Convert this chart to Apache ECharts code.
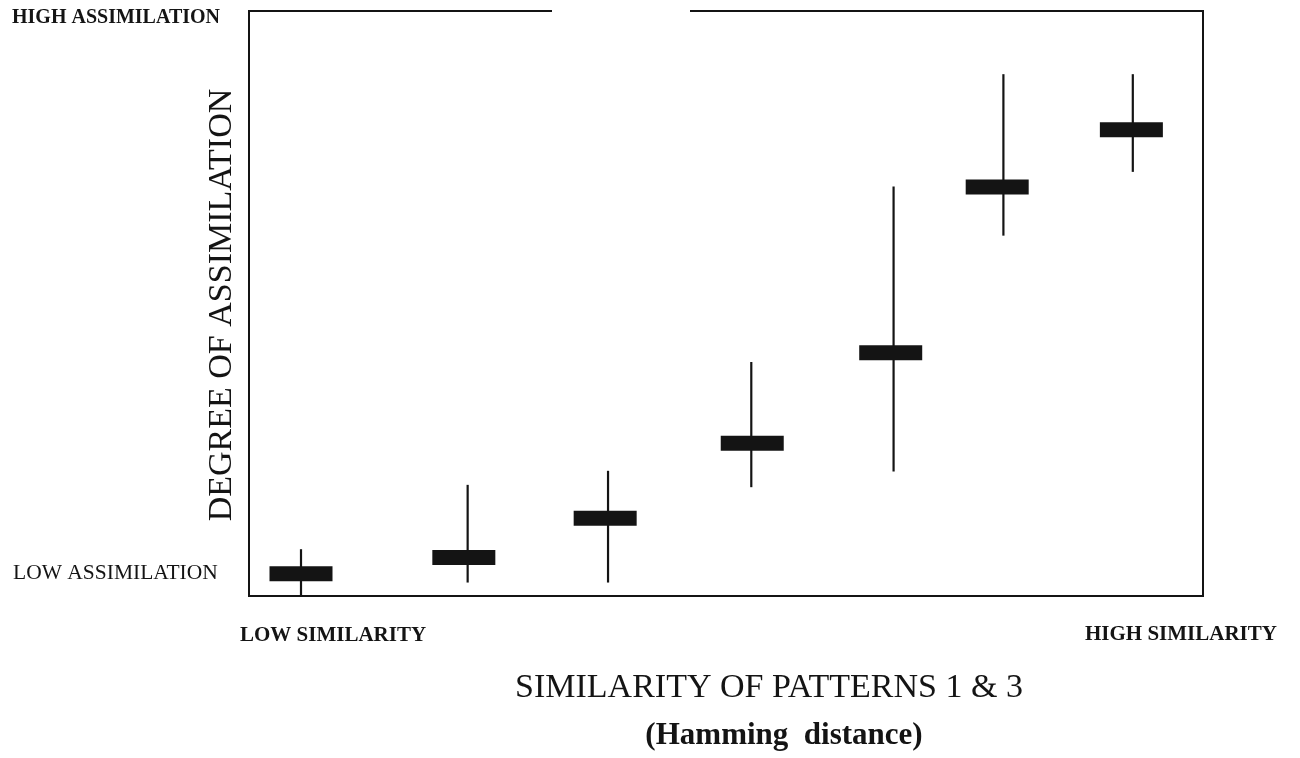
<!DOCTYPE html>
<html>
<head>
<meta charset="utf-8">
<script src="https://cdn.jsdelivr.net/npm/echarts@6/dist/echarts.min.js"></script>
<style>
html,body{margin:0;padding:0;background:#fff;}
#chart{width:1300px;height:758px;}
</style>
</head>
<body>
<div id="chart"></div>
<script>
// Similarity of patterns (0 = low similarity, 100 = high similarity)
var barX     = [5.55, 22.6, 37.4, 52.8, 67.3, 78.45, 92.5];
var whiskerX = [5.55, 23.0, 37.7, 52.7, 67.6, 79.1, 92.65];
// Degree of assimilation (0 = low, 100 = high)
var meanY = [3.8, 6.6, 13.3, 26.1, 41.6, 69.9, 79.7];
var lowY  = [0.0, 2.3, 2.3, 18.6, 21.3, 61.6, 72.5];
var highY = [8.0, 19.0, 21.4, 40.0, 70.0, 89.2, 89.2];

var yTickLabels = ['LOW ASSIMILATION', 'HIGH ASSIMILATION'];
var xTickLabels = ['LOW SIMILARITY', 'HIGH SIMILARITY'];
var xTitle = 'SIMILARITY OF PATTERNS 1 & 3';
var xSubTitle = '(Hamming  distance)';
var yTitle = 'DEGREE OF ASSIMILATION';

var data = barX.map(function (x, i) {
  return [x, whiskerX[i], meanY[i], lowY[i], highY[i]];
});

var chart = echarts.init(document.getElementById('chart'));
var serif = '"Liberation Serif", "DejaVu Serif", serif';
var ink = '#141414';

var option = {
  backgroundColor: '#ffffff',
  animation: false,
  grid: { left: 248, right: 97, top: 11, bottom: 162, show: false },
  xAxis: { type: 'value', min: 0, max: 100, show: false },
  yAxis: { type: 'value', min: 0, max: 100, show: false },
  series: [{
    type: 'custom',
    data: data,
    encode: { x: 0, y: 2 },
    renderItem: function (params, api) {
      var bx = api.value(0), wx = api.value(1), m = api.value(2), lo = api.value(3), hi = api.value(4);
      var c = api.coord([bx, m]);
      var top = api.coord([wx, hi]);
      var bot = api.coord([wx, lo]);
      var w = 63, h = 15;
      return {
        type: 'group',
        children: [
          { type: 'line', shape: { x1: top[0], y1: top[1], x2: bot[0], y2: bot[1] },
            style: { stroke: ink, lineWidth: 2.2 } },
          { type: 'rect', shape: { x: c[0] - w / 2, y: c[1] - h / 2, width: w, height: h },
            style: { fill: ink } }
        ]
      };
    }
  }],
  graphic: [
    // frame
    { type: 'polyline', shape: { points: [[249, 11], [249, 596], [1203, 596], [1203, 11]] },
      style: { stroke: ink, lineWidth: 2, fill: null } },
    { type: 'line', shape: { x1: 248, y1: 11, x2: 552, y2: 11 }, style: { stroke: ink, lineWidth: 2 } },
    { type: 'line', shape: { x1: 690, y1: 11, x2: 1204, y2: 11 }, style: { stroke: ink, lineWidth: 2 } },
    // y end labels
    { type: 'text', left: 12, top: 8,
      style: { text: yTickLabels[1], font: 'bold 20px ' + serif, fill: ink } },
    { type: 'text', left: 13, top: 562,
      style: { text: yTickLabels[0], font: '21.5px ' + serif, fill: ink } },
    // x end labels
    { type: 'text', left: 240, top: 625,
      style: { text: xTickLabels[0], font: 'bold 21px ' + serif, fill: ink } },
    { type: 'text', left: 1085, top: 624,
      style: { text: xTickLabels[1], font: 'bold 21px ' + serif, fill: ink } },
    // x titles
    { type: 'text', x: 769, y: 688,
      style: { text: xTitle, font: '34px ' + serif, fill: ink, align: 'center', verticalAlign: 'middle' } },
    { type: 'text', x: 784, y: 736,
      style: { text: xSubTitle, font: 'bold 31px ' + serif, fill: ink, align: 'center', verticalAlign: 'middle' } },
    // y title
    { type: 'text', x: 222, y: 305, rotation: Math.PI / 2,
      style: { text: yTitle, font: '34px ' + serif, fill: ink, align: 'center', verticalAlign: 'middle' } }
  ]
};
chart.setOption(option);
</script>
</body>
</html>
